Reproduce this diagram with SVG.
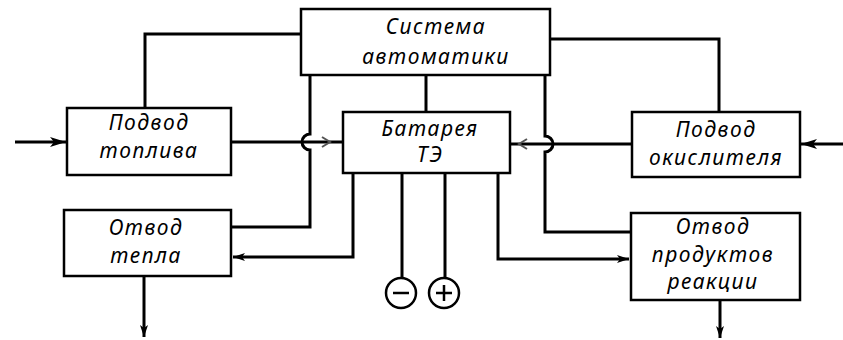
<svg xmlns="http://www.w3.org/2000/svg" width="843" height="340" viewBox="0 0 843 340">
<defs>
<marker id="ah" viewBox="0 0 12 8" refX="12" refY="4" markerWidth="12" markerHeight="8" markerUnits="userSpaceOnUse" orient="auto">
<path d="M0,0 L12,4 L0,8 L3,4 Z" fill="#000"/>
</marker>
<marker id="ah2" viewBox="0 0 16 10" refX="16" refY="5" markerWidth="16" markerHeight="10" markerUnits="userSpaceOnUse" orient="auto">
<path d="M0,0 L16,5 L0,10 L4,5 Z" fill="#000"/>
</marker>
<style>
.box{fill:#fff;stroke:#000;stroke-width:2.5}
.ln{fill:none;stroke:#000;stroke-width:3}
.faint{fill:none;stroke:#555;stroke-width:2}
text{font-family:"Noto Sans","DejaVu Sans",sans-serif;font-style:italic;font-size:21px;letter-spacing:1.5px;text-anchor:middle;fill:#000}
</style>
</defs>
<rect width="843" height="340" fill="#fff"/>
<g id="connectors">
<path class="ln" d="M301,34 H145 V108"/>
<path class="ln" d="M550,39 H719 V112"/>
<path class="ln" d="M310,75 V134 A8,8 0 0 0 310,150 V227 H231"/>
<path class="ln" d="M426,75 V112"/>
<path class="ln" d="M545,75 V136 A8,8 0 0 1 545,152 V232 H631"/>
<path class="ln" d="M231,142 H343"/>
<path class="ln" d="M632,144 H510"/>
<path class="ln" d="M353,173 V257 H233" marker-end="url(#ah)"/>
<path class="ln" d="M498,173 V259 H629" marker-end="url(#ah)"/>
<path class="ln" d="M402,173 V278"/>
<path class="ln" d="M445,173 V278"/>
<path class="ln" d="M15,142 H66" marker-end="url(#ah2)"/>
<path class="ln" d="M843,144 H801" marker-end="url(#ah2)"/>
<path class="ln" d="M144,276 V337" marker-end="url(#ah)"/>
<path class="ln" d="M720,300 V338" marker-end="url(#ah)"/>
<path class="faint" d="M322,137 L330,142 L322,147"/>
<path class="faint" d="M527,139 L519,144 L527,149"/>
</g>
<g id="sistema">
<rect class="box" x="301" y="9" width="249" height="66"/>
<text x="436" y="34">Система</text>
<text x="436" y="64">автоматики</text>
</g>
<g id="podvod-topliva">
<rect class="box" x="67" y="108" width="164" height="67"/>
<text x="149" y="130">Подвод</text>
<text x="149" y="158">топлива</text>
</g>
<g id="batareya">
<rect class="box" x="343" y="112" width="167" height="61"/>
<text x="430" y="136">Батарея</text>
<text x="430" y="162">ТЭ</text>
</g>
<g id="podvod-okislitelya">
<rect class="box" x="632" y="112" width="168" height="65"/>
<text x="716" y="137">Подвод</text>
<text x="716" y="165">окислителя</text>
</g>
<g id="otvod-tepla">
<rect class="box" x="64" y="210" width="167" height="66"/>
<text x="146" y="235">Отвод</text>
<text x="146" y="263">тепла</text>
</g>
<g id="otvod-produktov">
<rect class="box" x="631" y="213" width="169" height="87"/>
<text x="713" y="234">Отвод</text>
<text x="713" y="262">продуктов</text>
<text x="713" y="289">реакции</text>
</g>
<g id="minus">
<circle cx="401" cy="293" r="15" fill="#fff" stroke="#000" stroke-width="2.5"/>
<path d="M393,293 H409" stroke="#000" stroke-width="2.5"/>
</g>
<g id="plus">
<circle cx="444" cy="293" r="15" fill="#fff" stroke="#000" stroke-width="2.5"/>
<path d="M436,293 H452 M444,285 V301" stroke="#000" stroke-width="2.5"/>
</g>
</svg>
